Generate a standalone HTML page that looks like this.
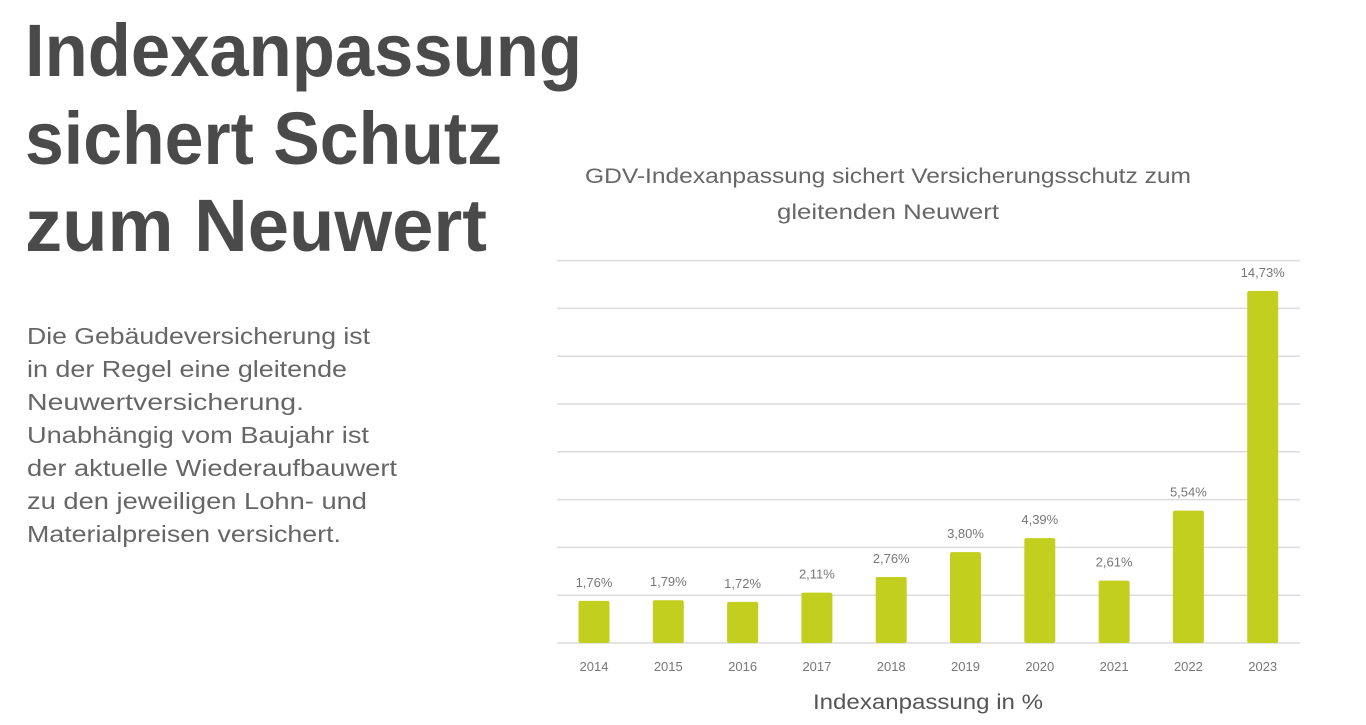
<!DOCTYPE html>
<html><head><meta charset="utf-8"><style>
html,body{margin:0;padding:0;background:#fff;width:1366px;height:725px;overflow:hidden}
svg{display:block;font-family:"Liberation Sans",sans-serif}
</style></head><body>
<svg id="s" width="1366" height="725" viewBox="0 0 1366 725">
<g fill="#4a4a4a" font-weight="bold" font-size="74">
<text x="25" y="76" textLength="557" lengthAdjust="spacingAndGlyphs">Indexanpassung</text>
<text x="25" y="164" textLength="477" lengthAdjust="spacingAndGlyphs">sichert Schutz</text>
<text x="25" y="251" textLength="462" lengthAdjust="spacingAndGlyphs">zum Neuwert</text>
</g>
<g fill="#666" font-size="23">
<text x="27" y="344" textLength="343" lengthAdjust="spacingAndGlyphs">Die Gebäudeversicherung ist</text>
<text x="27" y="377" textLength="320" lengthAdjust="spacingAndGlyphs">in der Regel eine gleitende</text>
<text x="27" y="410" textLength="277" lengthAdjust="spacingAndGlyphs">Neuwertversicherung.</text>
<text x="27" y="443" textLength="342" lengthAdjust="spacingAndGlyphs">Unabhängig vom Baujahr ist</text>
<text x="27" y="476" textLength="370" lengthAdjust="spacingAndGlyphs">der aktuelle Wiederaufbauwert</text>
<text x="27" y="509" textLength="340" lengthAdjust="spacingAndGlyphs">zu den jeweiligen Lohn- und</text>
<text x="27" y="542" textLength="314" lengthAdjust="spacingAndGlyphs">Materialpreisen versichert.</text>
</g>
<g fill="#666" font-size="21" text-anchor="middle">
<text x="888" y="183" textLength="606" lengthAdjust="spacingAndGlyphs">GDV-Indexanpassung sichert Versicherungsschutz zum</text>
<text x="888" y="219" textLength="222" lengthAdjust="spacingAndGlyphs">gleitenden Neuwert</text>
</g>
<g id="grid"></g><g id="bars"></g>
<text x="928" y="709" fill="#555" font-size="21" text-anchor="middle" textLength="230" lengthAdjust="spacingAndGlyphs">Indexanpassung in %</text>
</svg>
<script>
const years=["2014","2015","2016","2017","2018","2019","2020","2021","2022","2023"];
const values=[1.76,1.79,1.72,2.11,2.76,3.80,4.39,2.61,5.54,14.73];
const labels=["1,76%","1,79%","1,72%","2,11%","2,76%","3,80%","4,39%","2,61%","5,54%","14,73%"];
const gridTicks=[0,2,4,6,8,10,12,14,16];
const NS="http://www.w3.org/2000/svg";
const y0=643,pxPer=23.9,x0=557,x1=1300,step=74.3,first=594,bw=31;
const yS=v=>y0-v*pxPer, xS=i=>first+i*step;
const grid=document.getElementById('grid'),bars=document.getElementById('bars');
gridTicks.forEach(t=>{
 const l=document.createElementNS(NS,'line');
 l.setAttribute('x1',x0);l.setAttribute('x2',x1);l.setAttribute('y1',yS(t));l.setAttribute('y2',yS(t));
 l.setAttribute('stroke','#dcdcdc');l.setAttribute('stroke-width','1.5');
 
 
 grid.appendChild(l);
});
values.forEach((v,i)=>{
 const r=document.createElementNS(NS,'rect');
 r.setAttribute('x',xS(i)-bw/2);r.setAttribute('y',yS(v));r.setAttribute('width',bw);r.setAttribute('height',v*pxPer);
 r.setAttribute('fill','#c2cf1e');r.setAttribute('rx','2');
 
 
 bars.appendChild(r);
 const t=document.createElementNS(NS,'text');
 t.setAttribute('x',xS(i));t.setAttribute('y',yS(v)-14);t.setAttribute('text-anchor','middle');
 t.setAttribute('font-size','13');t.setAttribute('fill','#777');t.textContent=labels[i];
 
 
 bars.appendChild(t);
 const y=document.createElementNS(NS,'text');
 y.setAttribute('x',xS(i));y.setAttribute('y',671);y.setAttribute('text-anchor','middle');
 y.setAttribute('font-size','13');y.setAttribute('fill','#777');y.textContent=years[i];
 
 
 bars.appendChild(y);
});
</script>
</body></html>
